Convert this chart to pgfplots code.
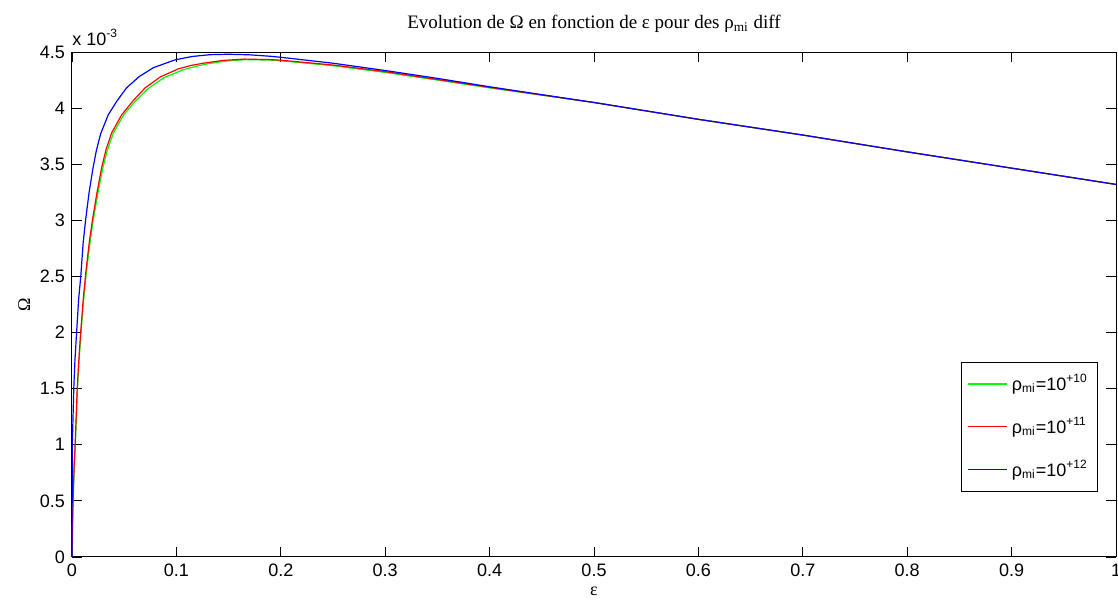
\documentclass[border=0pt]{standalone}
\usepackage{fontspec}
\setmainfont{Liberation Sans}
\newfontfamily\tnr{Liberation Serif}
\usepackage{pgfplots}
\pgfplotsset{compat=1.18}
\usetikzlibrary{calc}

\begin{document}
\begin{tikzpicture}
\begin{axis}[name=ax,
  scale only axis, width=522pt, height=252.5pt,
  xmin=0, xmax=1, ymin=0, ymax=4.5,
  xtick={0,0.1,0.2,0.3,0.4,0.5,0.6,0.7,0.8,0.9,1},
  ytick={0,0.5,1,1.5,2,2.5,3,3.5,4,4.5},
  /pgf/number format/assume math mode=true,
  tick label style={font=\fontsize{9}{11}\selectfont},
  tick align=inside, major tick length=5pt,
  tick style={black, line width=0.4pt},
  axis line style={line width=0.5pt},
  xlabel={\tnr ε}, ylabel={\tnr Ω},
  label style={font=\fontsize{9}{11}\selectfont},
  xlabel style={yshift=2pt},
  ylabel style={yshift=-2pt},
  title={\tnr Evolution de Ω en fonction de ε pour des ρ\textsubscript{mi} diff},
  title style={font=\fontsize{9.5}{11}\selectfont},
  legend cell align=left,
  legend style={at={(0.983,0.129)}, anchor=south east, draw=black,
    line width=0.5pt, font=\fontsize{9}{11}\selectfont, row sep=8pt,
    inner xsep=3pt, inner ysep=4pt},
  legend image code/.code={\draw[#1, line width=0.6pt] (0pt,0pt) -- (19.5pt,0pt);},
]
\addplot[color=green, line width=0.6pt] coordinates {
(0,0) (0.0006,0.3) (0.0011,0.5) (0.0021,0.8) (0.0032,1.0) (0.0052,1.5)
(0.0068,1.75) (0.0086,2.0) (0.0112,2.3) (0.0139,2.55) (0.0172,2.8)
(0.0203,3.0) (0.0250,3.25) (0.0296,3.47) (0.0339,3.625) (0.0395,3.775)
(0.0495,3.94) (0.060,4.055) (0.073,4.175) (0.088,4.27) (0.106,4.34)
(0.118,4.37) (0.130,4.395) (0.148,4.42) (0.167,4.432) (0.19,4.428) (0.2,4.422)
(0.25,4.378) (0.3,4.318) (0.35,4.25) (0.4,4.18) (0.45,4.115) (0.5,4.05)
(0.6,3.90) (0.7,3.76) (0.8,3.61) (0.9,3.465) (1.0,3.32)
};
\addlegendentry{ρ\textsubscript{mi}=10\textsuperscript{+10}}
\addplot[color=red, line width=0.6pt] coordinates {
(0,0) (0.0005,0.3) (0.001,0.5) (0.002,0.8) (0.003,1.0) (0.005,1.5)
(0.0065,1.75) (0.0083,2.0) (0.0108,2.3) (0.0134,2.55) (0.0165,2.8)
(0.0195,3.0) (0.024,3.25) (0.0284,3.47) (0.0326,3.63) (0.038,3.78)
(0.0476,3.94) (0.058,4.06) (0.070,4.18) (0.085,4.28) (0.102,4.35)
(0.114,4.38) (0.1257,4.40) (0.145,4.425) (0.165,4.437) (0.19,4.432) (0.2,4.427)
(0.25,4.384) (0.3,4.325) (0.35,4.255) (0.4,4.185) (0.45,4.117) (0.5,4.05)
(0.6,3.90) (0.7,3.76) (0.8,3.61) (0.9,3.465) (1.0,3.32)
};
\addlegendentry{ρ\textsubscript{mi}=10\textsuperscript{+11}}
\addplot[color=blue, line width=0.6pt] coordinates {
(0,0) (0.0003,1.0) (0.0017,1.5) (0.0028,1.75) (0.0044,2.0) (0.0064,2.3)
(0.0084,2.5) (0.0107,2.8) (0.013,3.0) (0.0164,3.25) (0.020,3.46) (0.0233,3.62)
(0.0274,3.77) (0.0347,3.94) (0.0428,4.06) (0.0522,4.18) (0.0642,4.28)
(0.0779,4.36) (0.0987,4.43) (0.115,4.46) (0.132,4.476) (0.15,4.48)
(0.17,4.475) (0.19,4.462) (0.2,4.453) (0.25,4.40) (0.3,4.335) (0.35,4.265)
(0.4,4.19) (0.45,4.12) (0.5,4.05)
(0.6,3.90) (0.7,3.76) (0.8,3.61) (0.9,3.465) (1.0,3.32)
};
\addlegendentry{ρ\textsubscript{mi}=10\textsuperscript{+12}}
\end{axis}
\node[anchor=base west, font=\fontsize{9}{11}\selectfont, inner sep=0pt]
  at ($(ax.north west)+(0pt,3.5pt)$) {x 10\textsuperscript{-3}};
\pgfresetboundingbox
\path[use as bounding box] ($(ax.south west)+(-36pt,-23pt)$) rectangle ($(ax.north east)+(1pt,26pt)$);
\end{tikzpicture}
\end{document}
